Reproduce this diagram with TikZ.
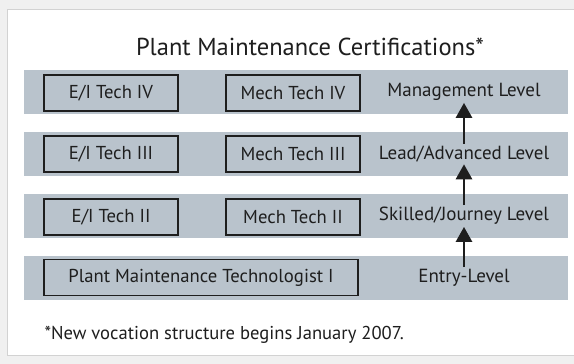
\documentclass[tikz,border=0pt]{standalone}
\usepackage{fontspec}
\setmainfont{PT Sans}
\usetikzlibrary{arrows.meta}
\definecolor{bandgray}{HTML}{B9C3CC}
\definecolor{ink}{HTML}{1E1E1E}
\tikzset{
  band/.style={fill=bandgray},
  cert/.style={draw=ink,line width=1.8pt,fill=bandgray,minimum height=36pt,minimum width=134pt,inner sep=0pt,font=\fontsize{18.7}{22}\selectfont,text=ink},
  level/.style={inner sep=2pt,font=\fontsize{19}{22}\selectfont,text=ink},
  up/.style={-{Triangle[width=16pt,length=15pt]},line width=2.8pt,draw=ink},
}
\begin{document}
\begin{tikzpicture}[x=1pt,y=-1pt]
\useasboundingbox (0,0) rectangle (574,364);
\fill[gray!12] (0,0) rectangle (574,364);
\draw[fill=white,draw=gray!35] (7,9) rectangle (590,355);
% level bands
\foreach \y in {70,132,194,256}
  \fill[band] (24,\y) rectangle (568,\y+44);
\node[font=\fontsize{24.5}{28}\selectfont,text=ink] (title) at (310,47) {Plant Maintenance Certifications*};
% certificates
\node[cert] (ei4) at (111,93) {E/I Tech IV};
\node[cert] (mech4) at (293,93) {Mech Tech IV};
\node[cert] (ei3) at (111,154) {E/I Tech III};
\node[cert] (mech3) at (293,154) {Mech Tech III};
\node[cert] (ei2) at (111,217) {E/I Tech II};
\node[cert] (mech2) at (293,217) {Mech Tech II};
\node[cert,minimum width=314pt] (pmt1) at (201,277.5) {Plant Maintenance Technologist I};
% levels
\node[level] (mgmt) at (464,92) {Management Level};
\node[level] (lead) at (464,154) {Lead/Advanced Level};
\node[level] (skilled) at (464,216) {Skilled/Journey Level};
\node[level] (entry) at (464,278) {Entry-Level};
\draw[up] (entry.north) -- (skilled.south);
\draw[up] (skilled.north) -- (lead.south);
\draw[up] (lead.north) -- (mgmt.south);
\node[anchor=west,font=\fontsize{18.6}{22}\selectfont,text=ink] (note) at (41,335) {*New vocation structure begins January 2007.};
\end{tikzpicture}
\end{document}
